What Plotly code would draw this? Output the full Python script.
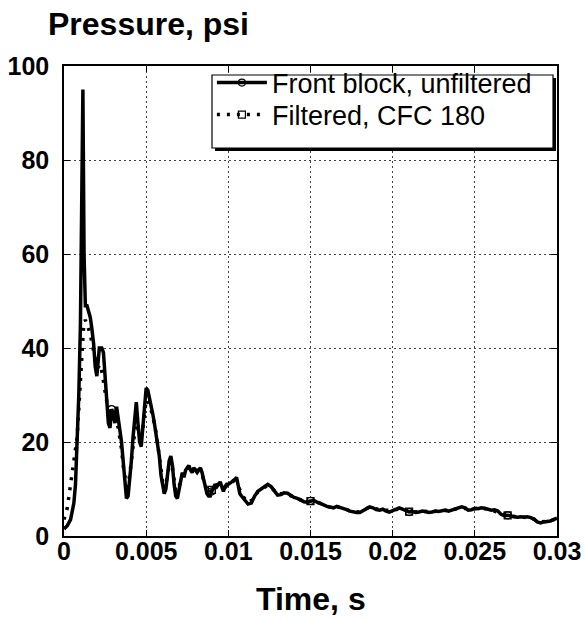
import plotly.graph_objects as go

# ---------------- data ----------------
t_unf = [0.0, 0.0002, 0.0004, 0.0006, 0.0007, 0.0008, 0.0009, 0.0010, 0.00108, 0.00115,
         0.00122, 0.0013, 0.0014, 0.0015, 0.0016, 0.0017, 0.0018, 0.0019, 0.0020, 0.00215,
         0.0023, 0.0024, 0.0025, 0.0026, 0.0027, 0.0028, 0.0029, 0.0030, 0.0031, 0.0032,
         0.0033, 0.0034, 0.0035, 0.0036, 0.0037, 0.0038, 0.0039, 0.0040, 0.0041, 0.0042,
         0.0043, 0.0044, 0.0045, 0.0046, 0.0047, 0.0048, 0.0049, 0.0050, 0.0051, 0.0052,
         0.0053, 0.0054, 0.0055, 0.0056, 0.0057, 0.0058, 0.0059, 0.0060, 0.0061, 0.0062,
         0.0063, 0.0064, 0.0065, 0.0066, 0.0067, 0.0068, 0.0069, 0.0070, 0.0071, 0.0072,
         0.0073, 0.0074, 0.0075, 0.0076, 0.0077, 0.0078, 0.0079, 0.0080, 0.0081, 0.0082,
         0.0083, 0.0084, 0.0085, 0.0086, 0.0087, 0.0088, 0.0089, 0.0090, 0.0091, 0.0092,
         0.0093, 0.0094, 0.0095, 0.0096, 0.0097, 0.0098, 0.0099, 0.0100, 0.0102, 0.0104,
         0.0105, 0.0106, 0.0107, 0.0108, 0.0110, 0.0112, 0.0114, 0.0116, 0.0118, 0.0120,
         0.0122, 0.0124, 0.0126, 0.0128, 0.0130, 0.0132, 0.0134, 0.0136, 0.0138, 0.0140,
         0.0142, 0.0144, 0.0146, 0.0148, 0.0150, 0.0152, 0.0154, 0.0156, 0.0158, 0.0160,
         0.0162, 0.0164, 0.0166, 0.0168, 0.0170, 0.0172, 0.0174, 0.0176, 0.0178, 0.0180,
         0.0182, 0.0184, 0.0186, 0.0188, 0.0190, 0.0192, 0.0194, 0.0196, 0.0198, 0.0200,
         0.0202, 0.0204, 0.0206, 0.0208, 0.0210, 0.0212, 0.0214, 0.0216, 0.0218, 0.0220,
         0.0222, 0.0224, 0.0226, 0.0228, 0.0230, 0.0232, 0.0234, 0.0236, 0.0238, 0.0240,
         0.0242, 0.0244, 0.0246, 0.0248, 0.0250, 0.0252, 0.0254, 0.0256, 0.0258, 0.0260,
         0.0262, 0.0264, 0.0266, 0.0268, 0.0270, 0.0272, 0.0274, 0.0276, 0.0278, 0.0280,
         0.0282, 0.0284, 0.0286, 0.0288, 0.0290, 0.0292, 0.0294, 0.0296, 0.0298, 0.0300]
p_unf = [1.5, 2.2, 3.5, 7.0, 11.0, 19.0, 30.0, 45.0, 70.0, 95.0,
         60.0, 49.0, 49.0, 47.5, 46.5, 44.0, 41.0, 36.0, 34.0, 40.0,
         40.0, 39.0, 33.0, 29.0, 24.0, 23.0, 27.0, 26.0, 24.0, 27.5,
         25.0, 23.0, 20.0, 16.0, 11.0, 8.0, 8.5, 12.0, 16.0, 21.0,
         26.0, 28.5, 24.0, 20.0, 19.0, 24.0, 28.0, 31.5, 31.0, 29.5,
         28.0, 26.0, 24.0, 22.0, 20.0, 17.0, 13.0, 10.5, 9.0, 10.0,
         13.0, 16.0, 17.0, 15.0, 11.0, 8.5, 8.0, 10.0, 12.0, 13.5,
         12.5, 14.0, 14.5, 15.0, 14.0, 13.5, 14.5, 14.0, 13.5, 14.0,
         14.5, 13.5, 12.0, 10.5, 9.0, 8.5, 8.5, 9.5, 10.5, 11.0,
         10.5, 11.0, 11.5, 10.5, 9.5, 10.5, 11.0, 11.0, 11.5, 12.0,
         12.5, 10.5, 9.0, 8.5, 7.5, 6.8, 7.0, 8.5, 9.5, 10.0,
         10.5, 11.0, 10.5, 9.5, 8.7, 8.8, 9.2, 9.1, 8.6, 8.2,
         8.0, 7.6, 7.3, 7.2, 7.5, 7.6, 7.2, 6.8, 6.6, 6.3,
         6.1, 6.0, 6.3, 6.1, 5.9, 5.6, 5.3, 5.1, 5.0, 5.0,
         5.4, 5.9, 6.2, 6.0, 5.6, 5.5, 5.7, 5.3, 5.1, 5.4,
         5.8, 6.0, 5.7, 5.3, 5.1, 5.2, 5.0, 5.1, 5.3, 5.2,
         5.0, 5.1, 5.3, 5.2, 5.4, 5.5, 5.3, 5.5, 5.8, 6.0,
         6.2, 6.0, 5.5, 5.6, 5.9, 5.8, 6.0, 5.9, 5.6, 5.5,
         5.6, 5.3, 4.6, 4.3, 4.4, 4.2, 4.1, 4.0, 4.1, 4.0,
         4.1, 3.9, 3.6, 3.0, 2.8, 3.0, 3.1, 3.2, 3.5, 3.8]

t_filt = [0.0, 0.0002, 0.0004, 0.0006, 0.0008, 0.0009, 0.0010, 0.0011, 0.0012, 0.0013,
          0.0014, 0.0015, 0.0016, 0.0017, 0.0018, 0.0019, 0.0020, 0.0021, 0.0022, 0.0023,
          0.0024, 0.0025, 0.0026, 0.0027, 0.0028, 0.0029, 0.0030, 0.0031, 0.0032, 0.0033,
          0.0034, 0.0035, 0.0036, 0.0037, 0.0038, 0.0039, 0.0040, 0.0042, 0.0044, 0.0046,
          0.0048, 0.0050, 0.0052, 0.0054, 0.0056, 0.0058, 0.0060, 0.0062, 0.0064, 0.0066,
          0.0068, 0.0070, 0.0072, 0.0074, 0.0076, 0.0078, 0.0080, 0.0082, 0.0084, 0.0086,
          0.0088, 0.0090, 0.0092, 0.0094, 0.0096, 0.0098, 0.0100, 0.0103, 0.0106, 0.0109,
          0.0112, 0.0115, 0.0118, 0.0121, 0.0124, 0.0127, 0.0130, 0.0134, 0.0138, 0.0142,
          0.0146, 0.0150, 0.0154, 0.0158, 0.0162, 0.0166, 0.0170, 0.0175, 0.0180, 0.0185,
          0.0190, 0.0195, 0.0200, 0.0205, 0.0210, 0.0215, 0.0220, 0.0225, 0.0230, 0.0235,
          0.0240, 0.0245, 0.0250, 0.0255, 0.0260, 0.0265, 0.0270, 0.0275, 0.0280, 0.0285,
          0.0290, 0.0295, 0.0300]
p_filt = [3.5, 6.0, 11.0, 16.0, 21.0, 27.0, 33.0, 40.0, 45.0, 46.0,
          45.0, 44.0, 43.0, 41.0, 39.0, 37.0, 36.0, 36.0, 36.5, 35.0,
          33.0, 30.0, 28.0, 26.5, 25.5, 25.5, 25.0, 24.5, 24.0, 23.0,
          21.0, 18.5, 15.0, 12.0, 10.5, 11.0, 13.0, 19.0, 25.0, 21.0,
          23.0, 29.0, 28.0, 25.5, 22.0, 17.0, 11.5, 11.0, 15.0, 14.5,
          9.5, 10.5, 13.0, 13.5, 14.5, 13.8, 14.0, 14.0, 13.0, 10.8,
          9.0, 9.8, 10.8, 11.0, 10.6, 10.3, 11.0, 11.8, 10.6, 8.4,
          7.1, 7.8, 9.4, 10.2, 10.8, 10.0, 8.9, 9.1, 8.6, 8.0,
          7.4, 7.4, 7.2, 6.6, 6.1, 6.2, 5.9, 5.2, 5.1, 6.0,
          5.7, 5.5, 5.4, 5.9, 5.2, 5.1, 5.2, 5.2, 5.4, 5.4,
          5.9, 5.8, 5.8, 5.9, 5.5, 4.9, 4.4, 4.1, 4.0, 3.7,
          3.0, 3.2, 3.7]

# times at which the sparse symbol markers are shown
marker_times = [0.0029, 0.0090, 0.0150, 0.0210, 0.0270]

x_tickvals = [0, 0.005, 0.01, 0.015, 0.02, 0.025, 0.03]
x_ticktext = ["0", "0.005", "0.01", "0.015", "0.02", "0.025", "0.03"]
y_tickvals = [0, 20, 40, 60, 80, 100]
y_ticktext = ["0", "20", "40", "60", "80", "100"]

series_names = ["Front block, unfiltered", "Filtered, CFC 180"]

FONT = "Liberation Sans, Arial, Helvetica, sans-serif"

sel_unf = [t_unf.index(t) for t in marker_times]
sel_filt = [t_filt.index(t) for t in marker_times]

fig = go.Figure()
fig.add_trace(go.Scatter(
    x=t_filt, y=p_filt, name=series_names[1], mode="lines+markers",
    line=dict(color="black", width=3.5, dash="3px,7px"),
    marker=dict(symbol="square-open", size=7, color="black", line=dict(width=1.2)),
    selectedpoints=sel_filt,
    selected=dict(marker=dict(opacity=1)),
    unselected=dict(marker=dict(opacity=0)),
    legend="legend2",
))
fig.add_trace(go.Scatter(
    x=t_unf, y=p_unf, name=series_names[0], mode="lines+markers",
    line=dict(color="black", width=3.5),
    marker=dict(symbol="circle-open", size=7, color="black", line=dict(width=1.2)),
    selectedpoints=sel_unf,
    selected=dict(marker=dict(opacity=1)),
    unselected=dict(marker=dict(opacity=0)),
    legend="legend",
))

axis_common = dict(
    showgrid=True, gridcolor="#444444", griddash="2px,3px", gridwidth=1,
    showline=True, linecolor="black", linewidth=1.5, mirror="ticks",
    ticks="inside", ticklen=6, tickcolor="black", tickwidth=1,
    zeroline=False, automargin=False,
    tickfont=dict(family=FONT, size=25, color="black", weight="bold"),
)

fig.update_xaxes(range=[0, 0.03], tickmode="array", tickvals=x_tickvals,
                 ticktext=x_ticktext, ticklabelstandoff=-8, **axis_common)
fig.update_yaxes(range=[0, 100], tickmode="array", tickvals=y_tickvals,
                 ticktext=y_ticktext, ticklabelstandoff=8, **axis_common)

legend_common = dict(
    xanchor="left", yanchor="middle",
    font=dict(family=FONT, size=27, color="black"),
    bgcolor="rgba(0,0,0,0)", borderwidth=0, itemwidth=50,
)

fig.update_layout(
    width=585, height=620,
    margin=dict(l=64, r=28, t=66, b=84),
    paper_bgcolor="white", plot_bgcolor="white",
    showlegend=True,
    legend=dict(x=0.30, y=0.9638, **legend_common),
    legend2=dict(x=0.30, y=0.8957, **legend_common),
    shapes=[
        # legend shadow
        dict(type="rect", xref="paper", yref="paper", layer="above",
             x0=0.3063, x1=0.998, y0=0.8191, y1=0.9745,
             fillcolor="black", line=dict(width=0)),
        # legend box
        dict(type="rect", xref="paper", yref="paper", layer="above",
             x0=0.3002, x1=0.9919, y0=0.8255, y1=0.9809,
             fillcolor="white", line=dict(color="black", width=1.2)),
    ],
    annotations=[
        dict(text="Pressure, psi", xref="paper", yref="paper",
             x=0.172, y=1.089, xanchor="center", yanchor="middle",
             showarrow=False,
             font=dict(family=FONT, size=32, color="black", weight="bold")),
        dict(text="Time, s", xref="paper", yref="paper",
             x=0.5, y=-0.134, xanchor="center", yanchor="middle",
             showarrow=False,
             font=dict(family=FONT, size=32, color="black", weight="bold")),
    ],
)

fig.write_html("out.html")
